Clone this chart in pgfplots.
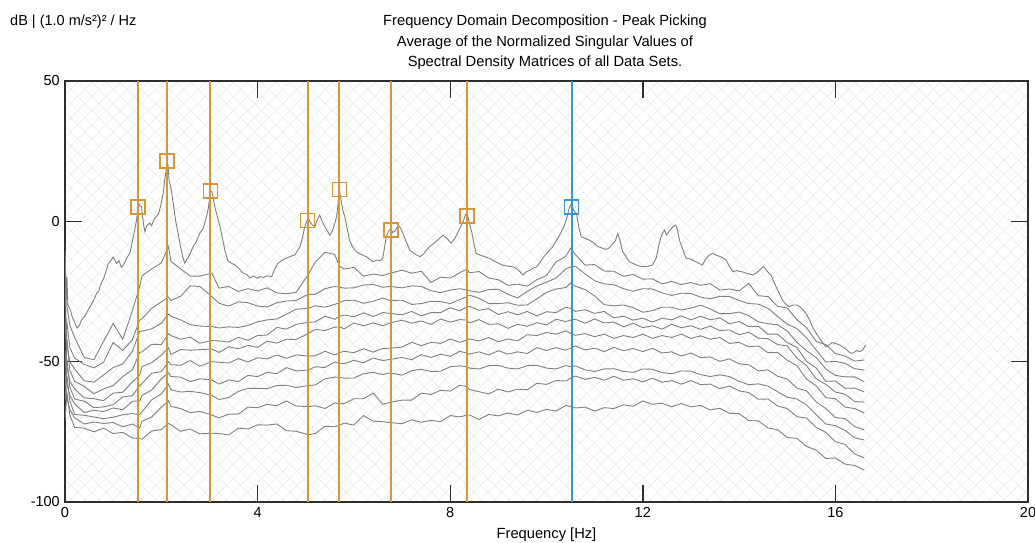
\documentclass[border=0pt]{standalone}
\usepackage{fontspec}
\setmainfont{Liberation Sans}
\usepackage{pgfplots}
\pgfplotsset{compat=1.18}
\usepackage{pgfplotstable}
\usetikzlibrary{patterns.meta}
\definecolor{peakor}{RGB}{218,150,52}
\definecolor{peakbl}{RGB}{58,150,212}
\definecolor{svgray}{RGB}{128,128,128}
\definecolor{frame}{RGB}{45,45,45}

\pgfplotstableread{
f c1
0.00 -10
0.02 -25
0.04 -20
0.06 -30
0.10 -31
0.15 -34
0.20 -36
0.25 -38
0.30 -37
0.35 -35
0.40 -34
0.45 -32.7
0.50 -31
0.55 -29.5
0.60 -28
0.66 -25.5
0.70 -25
0.75 -22
0.80 -20.5
0.85 -18
0.90 -15
0.95 -14
1.00 -12.7
1.04 -14
1.07 -15
1.12 -14
1.17 -16.3
1.22 -15.5
1.28 -13
1.35 -11.3
1.40 -7
1.45 -3
1.49 1
1.52 7
1.55 5.5
1.59 5.2
1.63 -1
1.66 -3.7
1.70 -1.5
1.76 -0.6
1.80 -1.5
1.85 0.8
1.90 1.7
1.95 3
2.00 6.5
2.04 10
2.07 14.7
2.10 18
2.12 21.5
2.14 20
2.16 15
2.21 11
2.25 6
2.30 0
2.35 -4.2
2.40 -9
2.45 -13
2.49 -15
2.53 -13.5
2.56 -13
2.61 -11
2.66 -9
2.72 -7.5
2.80 -4.2
2.87 -2.5
2.94 1.7
2.98 5
3.02 11
3.05 10.5
3.08 8
3.11 5.2
3.16 2
3.22 -1.9
3.27 -6
3.32 -10.2
3.38 -14
3.45 -14.8
3.53 -15.6
3.62 -17
3.70 -18.5
3.78 -19
3.84 -20.2
3.92 -19.5
4.00 -20.3
4.05 -19.7
4.12 -20
4.20 -19.4
4.29 -19.7
4.36 -17
4.42 -15
4.50 -14
4.60 -13.1
4.68 -12.5
4.77 -12
4.83 -10.5
4.88 -9
4.93 -6
4.98 -1.9
5.02 0
5.05 1.2
5.10 -0.5
5.15 -1.5
5.19 -1.9
5.24 0.5
5.29 2.3
5.34 0
5.40 -2
5.45 -3.5
5.50 -4.9
5.55 -3.5
5.60 -1
5.64 1.7
5.67 6
5.70 11
5.73 8
5.77 4
5.81 1.7
5.86 -2.5
5.91 -6.7
5.97 -9
6.05 -10.8
6.12 -11.5
6.20 -12.2
6.26 -12.6
6.33 -13.5
6.40 -14.4
6.47 -13.8
6.55 -14
6.60 -13.1
6.64 -9
6.67 -5.5
6.72 -3.5
6.77 -2.6
6.80 -4
6.85 -3.5
6.90 -2
6.95 -1.9
7.00 -3.5
7.08 -7
7.16 -10.2
7.25 -11.5
7.37 -12.6
7.45 -11.5
7.57 -9
7.65 -8
7.75 -6.5
7.85 -4.9
7.93 -6
8.02 -7.8
8.10 -6
8.20 -2.5
8.27 0
8.32 2.5
8.36 2.3
8.40 -0.7
8.45 -4
8.50 -8.5
8.54 -11.4
8.62 -12
8.70 -12.5
8.82 -13.2
8.95 -14.5
9.09 -15.6
9.20 -16
9.30 -16.2
9.37 -16.7
9.45 -18
9.51 -19.1
9.58 -18
9.65 -17.5
9.72 -16.7
9.80 -16.2
9.87 -14.5
9.95 -12.5
10.05 -10.5
10.13 -9
10.22 -6.5
10.30 -4
10.36 -1.9
10.42 1
10.47 4.5
10.50 5.8
10.54 5
10.58 3.5
10.62 2.9
10.67 -2
10.72 -5.5
10.80 -6
10.89 -6.7
10.97 -7.5
11.07 -9
11.15 -9.5
11.24 -10
11.30 -9.5
11.37 -8
11.43 -7
11.48 -4.3
11.53 -7
11.58 -10.8
11.65 -12.5
11.72 -14.4
11.80 -15
11.90 -15.8
12.00 -16.2
12.10 -16
12.20 -15.6
12.28 -13
12.34 -8
12.38 -5.5
12.42 -4
12.45 -3.1
12.49 -4.9
12.55 -3.5
12.62 -2
12.68 -1.3
12.72 -3
12.76 -6.7
12.83 -10
12.90 -13.1
13.00 -13.5
13.10 -14.4
13.17 -15
13.24 -15.6
13.30 -13.5
13.38 -12
13.45 -11.4
13.52 -12
13.60 -12.5
13.66 -13
13.73 -13.8
13.80 -16
13.87 -18
13.95 -17.5
14.00 -17.8
14.07 -18
14.15 -18.5
14.22 -18.8
14.28 -19.1
14.35 -18.5
14.42 -17.5
14.48 -16.5
14.52 -16.2
14.57 -17.5
14.62 -18.5
14.66 -19.1
14.72 -21.5
14.80 -24.5
14.90 -28
14.97 -29.5
15.04 -30.4
15.12 -29.8
15.21 -29.8
15.30 -31
15.39 -32.8
15.46 -35
15.52 -37.5
15.60 -39.9
15.68 -42
15.75 -43.5
15.80 -44.7
15.87 -44
15.93 -43.2
16.00 -43.5
16.08 -44
16.15 -44.7
16.22 -45.5
16.28 -46.5
16.32 -47
16.38 -46.8
16.44 -46
16.50 -46.4
16.56 -46
16.63 -44
}\svone

\pgfplotstableread{
f c2 c3 c4 c5 c6 c7 c8 c9 c10 c11
0.00 -12 -40 -22 -52 -33 -58 -46 -64 -56 -71
0.04 -30 -36 -44 -42 -52 -49 -58 -55 -63 -61
0.10 -37 -45 -50 -53 -57 -59 -62 -64 -67 -69
0.20 -41.4 -48.7 -52.6 -57 -59.7 -63.3 -65 -68.8 -70 -73.4
0.40 -48.5 -51 -56.8 -58.8 -62.9 -64.1 -68.1 -69.1 -72.2 -73.7
0.60 -49.3 -52.2 -57.3 -61.4 -63.2 -66.4 -67.3 -69.7 -71.5 -75
0.80 -42.8 -50.2 -54.8 -59.7 -63.9 -66.1 -67.8 -70.3 -72 -73.7
1.00 -36.4 -43.2 -52.1 -58.5 -61.2 -65.3 -66.5 -69.8 -71.7 -75.6
1.20 -42 -46 -50.8 -55.3 -60.9 -62.6 -67.1 -68.9 -73.2 -75.2
1.40 -31.8 -42.2 -46.3 -52.9 -57.2 -62.1 -64.1 -68.5 -72.2 -77.2
1.55 -23.3 -35.2 -39.3 -46.7 -54.9 -58.5 -64 -68.9 -73.6 -77.4
1.60 -19.4 -34.7 -39.1 -46.5 -51.7 -57.8 -62 -67.8 -71.2 -77.6
1.80 -17 -31 -38.3 -43.8 -50.4 -54.1 -60.1 -63.6 -69.7 -74.7
2.00 -14.8 -28.7 -36.3 -43.9 -47.7 -53.6 -56.1 -61.5 -66.2 -74.2
2.15 -9 -27 -33 -40 -45 -50 -54 -58 -64 -72
2.20 -14.3 -28.2 -33.8 -40.7 -47.4 -51.1 -55.3 -60 -65.9 -72.5
2.40 -16.9 -26.7 -35.1 -42 -45.7 -51.3 -55.5 -60.8 -66.7 -74.8
2.60 -19.5 -23 -36.8 -41.3 -45.9 -49.6 -57.1 -60.6 -68.2 -74
2.80 -19.5 -23.2 -37.3 -43.4 -45.7 -51.6 -56.1 -61 -67.7 -75.7
3.05 -18.5 -26.8 -37.5 -42.5 -45.5 -50 -56.5 -62 -69 -75.5
3.20 -23.8 -29.2 -38 -42.6 -46.7 -50.2 -58 -63.5 -70 -75.6
3.40 -23.2 -30.2 -37.6 -43 -44.7 -50.5 -56.5 -62.8 -68.7 -76.1
3.60 -25 -28.7 -37.8 -41.3 -45.4 -48.9 -57.1 -60.6 -68.7 -73.7
3.80 -24 -29 -37.1 -42.4 -44.2 -50.1 -54.9 -59.5 -66.2 -74
4.00 -24.8 -30.2 -35.8 -40.7 -44.9 -48.6 -55.3 -59.5 -66.4 -72.5
4.20 -23.7 -30.5 -35.1 -40.5 -42.7 -49 -53.8 -59.6 -65.2 -72.6
4.40 -25.5 -29 -34.8 -37.8 -43.4 -47.6 -54.3 -58.5 -65.7 -72.2
4.60 -25.8 -28.4 -33.1 -38.4 -42 -48.8 -52.1 -58.4 -64 -74.6
4.80 -25.3 -28.2 -31.3 -36.7 -42.1 -47.6 -53.3 -59.2 -65.8 -74.8
5.05 -19 -26 -31 -36 -40 -48 -53 -58.5 -66 -76
5.20 -14.4 -26 -30.1 -35.8 -38.5 -47.9 -51.8 -58.3 -65.7 -75.6
5.40 -11 -24 -30.6 -33.8 -38.9 -46.3 -52.1 -56.1 -66.7 -73
5.60 -11.8 -23.2 -29.6 -34.9 -37.7 -47.6 -50.1 -55.5 -64.7 -73.2
5.70 -16 -23.5 -29 -33.8 -37.6 -46.8 -50.6 -55.6 -65 -72.6
5.80 -17 -23.8 -28.2 -33.4 -38.3 -46.3 -50.7 -55.9 -64.9 -71.9
6.00 -16.4 -23.7 -28.1 -34 -36.2 -46.8 -49.5 -55.8 -63.2 -72.6
6.20 -19.5 -22.7 -29.2 -32.6 -37.2 -45.4 -50.4 -54.3 -63.2 -69.2
6.40 -18.8 -22.5 -28.5 -33.9 -36.2 -46.6 -48.7 -53.8 -61.2 -71.2
6.60 -19.3 -23.5 -27.3 -32.5 -37.2 -45.3 -49.6 -54.6 -65.2 -71.4
6.75 -18.5 -23.2 -28.2 -32.8 -36.2 -45.2 -49.2 -54 -64.5 -71.7
7.00 -17.4 -23.7 -28.1 -33.3 -35.2 -44.8 -48.5 -54.8 -63.7 -72.1
7.20 -18.5 -23 -29.6 -32.1 -36.3 -43.1 -49.3 -53.2 -63.7 -70.7
7.40 -17.8 -23.2 -29.3 -33.7 -35.5 -44.3 -47.5 -52.7 -61.2 -71.6
7.60 -21.8 -24.7 -28.5 -32.5 -36.7 -43.1 -48.5 -53.5 -61.7 -70.9
7.80 -19.9 -25.4 -28.6 -32.5 -34.8 -43.5 -47.3 -53.4 -60.2 -71.4
8.00 -20.2 -24.5 -29.3 -30.8 -35.9 -41.9 -48.1 -51.8 -60.5 -69.2
8.20 -18.3 -24 -27.9 -31.9 -35 -43.1 -46.3 -51.5 -58.4 -69.7
8.35 -17 -24.5 -26.8 -30.4 -35.2 -42.3 -47 -51.8 -58.9 -69
8.40 -18.3 -24.7 -26.3 -30.3 -36.2 -41.9 -47.3 -52.3 -59.9 -69
8.60 -17.9 -25.3 -27.4 -31.7 -35 -42.6 -46.5 -52.6 -60.7 -70.6
8.80 -20.2 -24.3 -29.3 -31.1 -36.7 -41.4 -47.6 -51.4 -61.5 -68.8
9.00 -20.8 -24.2 -29.3 -33.2 -36.5 -42.9 -46.1 -51.3 -59.8 -69.3
9.20 -22.8 -26 -29 -32.2 -38.1 -41.9 -47.3 -52.3 -60.8 -68.3
9.40 -22.4 -27.3 -29.9 -33.3 -36.7 -42.6 -46.5 -52.6 -59.8 -69
9.60 -23.1 -25 -29.8 -32.1 -37.4 -40.4 -47.1 -51.4 -60 -67.3
9.80 -20.8 -23 -27.6 -33.7 -36.1 -40.7 -45 -51.3 -57.7 -68.1
10.00 -19.3 -21.7 -25.3 -32.2 -36.9 -39.6 -46 -52.3 -58.1 -67
10.20 -14.4 -20.2 -24.1 -32.5 -34.9 -40.2 -45 -52.6 -56.7 -67.6
10.40 -12.5 -17 -23.6 -30.6 -35.7 -39 -45.9 -51.4 -56.9 -65.6
10.50 -9.6 -16.2 -22 -31 -35.2 -39.9 -45.2 -51.8 -55.9 -66
10.60 -11.8 -16 -23.1 -32.1 -34.9 -40.6 -44.4 -51.5 -55.1 -66.5
10.80 -15.6 -18.7 -24.3 -31.5 -36.3 -40 -45.8 -52.9 -56.3 -66.2
11.00 -15.4 -21.2 -26.6 -32.8 -34.8 -41.1 -45.2 -53.5 -55.6 -67.6
11.20 -17.7 -22.3 -29.7 -32.1 -36.2 -40.2 -46.4 -52.6 -56.6 -66.4
11.40 -17.8 -22.6 -30.1 -34.4 -35.9 -41.7 -44.9 -52.5 -55.2 -66.7
11.60 -19.6 -24 -29.8 -33.8 -37.6 -40.7 -46.1 -53.5 -56.6 -65.4
11.80 -18.9 -24.9 -30.7 -35.2 -36.3 -41.4 -45.3 -53.8 -56.1 -65.9
12.00 -20.6 -24 -32.4 -34.5 -37.9 -40.2 -46.4 -52.6 -57.2 -64
12.20 -20.5 -24.1 -31.8 -35.9 -37.2 -41.7 -45.3 -52.7 -55.9 -65.2
12.40 -22.3 -25.5 -30.6 -34.5 -38.4 -40.7 -46.9 -53.9 -57.3 -64.8
12.60 -21.4 -26.4 -30.6 -35.1 -36.7 -41.4 -46.5 -54.3 -56.8 -66.1
12.80 -22.5 -25.6 -31.6 -33.7 -37.9 -40.2 -48 -53.3 -58 -64.9
13.00 -21.8 -25.7 -30.9 -35.1 -37.2 -41.7 -46.9 -53.4 -56.7 -66.1
13.20 -22.8 -27 -29.9 -33.8 -38.5 -40.8 -48.6 -54.6 -58.2 -65.6
13.40 -22.2 -27.6 -31.2 -35.1 -37.3 -42 -48.3 -55.3 -58 -67.2
13.60 -24.5 -26.7 -32.9 -34.4 -38.9 -41.4 -49.9 -54.7 -59.6 -66.6
13.80 -24.1 -26.8 -32.9 -36.5 -38.7 -43.5 -49 -55.3 -58.7 -68.4
14.00 -24.8 -28.2 -32.3 -35.7 -40.4 -43.1 -50.8 -57 -60.4 -68.5
14.20 -22.1 -29.3 -33.6 -37.5 -39.5 -44.7 -51.1 -58.2 -61 -71
14.40 -26.5 -29.5 -35.8 -37.4 -41.6 -44.4 -53.3 -57.9 -63.4 -71.1
14.60 -26.8 -31 -36.5 -40.2 -41.8 -46.8 -52.9 -58.7 -63.3 -73.6
14.80 -30.3 -33.9 -36.8 -40.2 -43.9 -46.7 -55.2 -60.7 -65.8 -74.3
15.00 -30.9 -36.6 -39.1 -43.2 -44.4 -49.5 -56.2 -62.7 -66.7 -77
15.20 -35 -38.2 -43.1 -44.9 -48.7 -51.4 -59.4 -63.3 -69.6 -77.3
15.40 -37.8 -41.5 -46.1 -49.9 -51.4 -56.2 -60.4 -65.4 -70.1 -80.2
15.60 -42.8 -45.8 -48.5 -52.2 -56.1 -58.6 -64.3 -68.9 -73.4 -81.5
15.80 -43.9 -50.1 -52.6 -57 -58.1 -62.8 -66.7 -72.2 -75.2 -84.5
16.00 -47.1 -49.9 -54.9 -56.9 -60.8 -63.2 -69.9 -72.8 -78.5 -84.3
16.20 -48 -50.6 -55.4 -59.5 -61.6 -66.2 -70.3 -74.5 -79.5 -86.5
16.40 -49.8 -52.5 -55.4 -59.4 -64.2 -66.7 -73.1 -77.1 -82.9 -87
16.60 -49.4 -53 -57.2 -60.8 -64.4 -68.3 -74.3 -77.9 -84.3 -88.6
}\svrest

\pgfplotstableread{
f db
1.52 5.2
2.12 21.6
3.02 10.8
5.04 0.3
5.70 11.3
6.77 -3.0
8.35 1.9
}\peaksor

\pgfplotstableread{
f db
10.52 5.2
}\peaksbl

\begin{document}
\begin{tikzpicture}
\begin{axis}[
  scale only axis,
  width=963pt, height=421pt,
  at={(65pt,40pt)}, anchor=south west,
  xmin=0, xmax=20, ymin=-100, ymax=50,
  xtick={0,4,8,12,16,20},
  ytick={-100,-50,0,50},
  tick align=inside,
  major tick length=17pt,
  tick style={line width=1.4pt, color=frame},
  axis line style={line width=1.4pt, color=frame},
  tick label style={font=\fontsize{14.5}{16}\selectfont},
  /pgf/number format/assume math mode=true,
  yticklabel style={inner sep=0pt, xshift=-5pt},
  xticklabel style={inner sep=0pt, yshift=-5pt},
  axis background/.style={pattern={Hatch[angle=45,distance=10pt,line width=0.5pt]}, pattern color=black!9},
  clip=true,
]
\addplot[svgray, line width=0.9pt] table[x=f,y=c1]{\svone};
\pgfplotsinvokeforeach{c2,c3,c4,c5,c6,c7,c8,c9,c10,c11}{
  \addplot[svgray, line width=0.9pt] table[x=f,y=#1]{\svrest};
}
\addplot[peakor, line width=2pt] coordinates {(1.52,-100) (1.52,50)};
\addplot[peakor, line width=2pt] coordinates {(2.12,-100) (2.12,50)};
\addplot[peakor, line width=2pt] coordinates {(3.02,-100) (3.02,50)};
\addplot[peakor, line width=2pt] coordinates {(5.04,-100) (5.04,50)};
\addplot[peakor, line width=2pt] coordinates {(5.70,-100) (5.70,50)};
\addplot[peakor, line width=2pt] coordinates {(6.77,-100) (6.77,50)};
\addplot[peakor, line width=2pt] coordinates {(8.35,-100) (8.35,50)};
\addplot[peakbl, line width=2pt] coordinates {(10.52,-100) (10.52,50)};
\addplot[only marks, mark=square, mark size=7pt, mark options={draw=peakor, line width=1.6pt, fill=none}] table[x=f,y=db]{\peaksor};
\addplot[only marks, mark=square, mark size=7pt, mark options={draw=peakbl, line width=1.6pt, fill=none}] table[x=f,y=db]{\peaksbl};
\end{axis}
\node[anchor=base west, inner sep=0pt, font=\fontsize{14.5}{16}\selectfont] at (10pt,516pt) {dB | (1.0 m/s²)² / Hz};
\node[anchor=base, inner sep=0pt, font=\fontsize{14.7}{16}\selectfont] at (545pt,516pt) {Frequency Domain Decomposition - Peak Picking};
\node[anchor=base, inner sep=0pt, font=\fontsize{14.7}{16}\selectfont] at (545pt,495.5pt) {Average of the Normalized Singular Values of};
\node[anchor=base, inner sep=0pt, font=\fontsize{14.7}{16}\selectfont] at (545pt,475pt) {Spectral Density Matrices of all Data Sets.};
\node[anchor=base, inner sep=0pt, font=\fontsize{14.7}{16}\selectfont] at (546.5pt,4pt) {Frequency [Hz]};
\pgfresetboundingbox
\path[use as bounding box] (0,0) rectangle (1035pt,542pt);
\end{tikzpicture}
\end{document}
